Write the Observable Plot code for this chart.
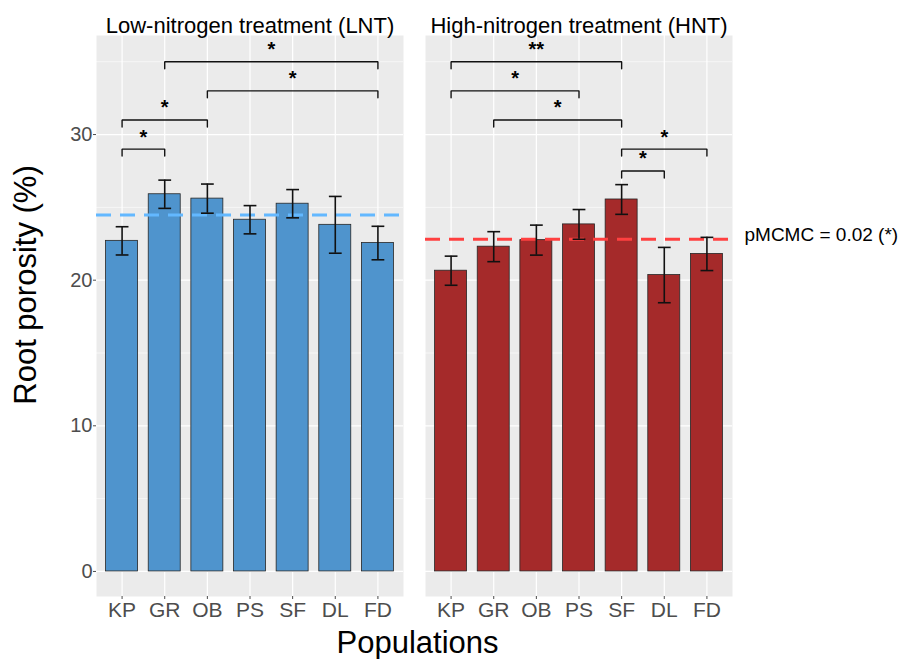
<!DOCTYPE html>
<html>
<head>
<meta charset="utf-8">
<script src="https://cdn.jsdelivr.net/npm/d3@7"></script>
<script src="https://cdn.jsdelivr.net/npm/@observablehq/plot@0.6"></script>
<style>
  html, body { margin: 0; padding: 0; background: #ffffff; }
  #chart { width: 900px; height: 659px; }
</style>
</head>
<body>
<div id="chart"></div>
<script>
// Root porosity by population under two nitrogen treatments
const populations = ["KP", "GR", "OB", "PS", "SF", "DL", "FD"];
const treatments = ["Low-nitrogen treatment (LNT)", "High-nitrogen treatment (HNT)"];

const lntMean = [22.7, 25.9, 25.6, 24.15, 25.25, 23.8, 22.55];
const lntErr  = [0.97, 0.97, 1.0, 0.97, 0.97, 1.95, 1.15];
const hntMean = [20.65, 22.3, 22.75, 23.83, 25.54, 20.35, 21.8];
const hntErr  = [1.0, 1.03, 1.03, 1.02, 1.02, 1.9, 1.14];

// overall mean of each treatment (dashed reference lines)
const treatmentMean = [24.48, 22.81];
const mcmcLabel = "pMCMC = 0.02 (*)";

// pairwise comparisons: [from, to, bracket height, significance]
const lntPairs = [["KP", "GR", 29.0, "*"], ["KP", "OB", 31.0, "*"], ["OB", "FD", 33.0, "*"], ["GR", "FD", 35.0, "*"]];
const hntPairs = [["KP", "SF", 35.0, "**"], ["KP", "PS", 33.0, "*"], ["GR", "SF", 31.0, "*"], ["SF", "FD", 29.0, "*"], ["SF", "DL", 27.5, "*"]];

const yTicks = [0, 10, 20, 30];
const yMinor = [5, 15, 25, 35];

const barColors = ["#4F94CD", "#A52A2A"];
const meanColors = ["#63B8FF", "#FF4040"];

// ---- derived tables ----
const rows = treatments.flatMap((t, k) => populations.map((p, i) => ({
  treatment: t, population: p, i,
  mean: [lntMean, hntMean][k][i],
  err: [lntErr, hntErr][k][i]
})));

const pairs = [lntPairs, hntPairs].flatMap((list, k) => list.map(([a, b, h, label], n) => ({
  treatment: treatments[k], id: `${k}-${n}`,
  a: populations.indexOf(a), b: populations.indexOf(b), h, label
})));

const hook = 0.48; // bracket end length, in y units
const bracketPath = pairs.flatMap(d => [
  {treatment: d.treatment, id: d.id, x: d.a, y: d.h - hook},
  {treatment: d.treatment, id: d.id, x: d.a, y: d.h},
  {treatment: d.treatment, id: d.id, x: d.b, y: d.h},
  {treatment: d.treatment, id: d.id, x: d.b, y: d.h - hook}
]);

const means = treatments.map((t, k) => ({treatment: t, mean: treatmentMean[k], k}));

const barW = 0.375, capW = 0.15;

const chart = Plot.plot({
  width: 900,
  height: 659,
  marginLeft: 96,
  marginRight: 167,
  marginTop: 35,
  marginBottom: 63,
  style: {fontFamily: "'Liberation Sans', Arial, sans-serif", background: "#ffffff", overflow: "visible"},
  fx: {domain: treatments, paddingInner: 0.0668, paddingOuter: 0, axis: null},
  x: {domain: [-0.6, 6.6]},
  y: {domain: [-1.72, 36.8]},
  color: {domain: treatments, range: barColors},
  marks: [
    Plot.frame({fill: "#EBEBEB"}),
    Plot.ruleY(yMinor, {stroke: "#ffffff", strokeWidth: 0.6}),
    Plot.ruleY(yTicks, {stroke: "#ffffff", strokeWidth: 1.2}),
    Plot.ruleX(d3.range(populations.length), {stroke: "#ffffff", strokeWidth: 1.2}),

    Plot.rectY(rows, {
      fx: "treatment",
      x1: d => d.i - barW, x2: d => d.i + barW,
      y1: 0, y2: "mean",
      fill: "treatment", stroke: "#262626", strokeWidth: 0.8
    }),

    Plot.ruleY(means.filter(d => d.k === 0), {fx: "treatment", y: "mean", stroke: meanColors[0], strokeWidth: 3, strokeDasharray: "15,9"}),
    Plot.ruleY(means.filter(d => d.k === 1), {fx: "treatment", y: "mean", stroke: meanColors[1], strokeWidth: 3, strokeDasharray: "15,9"}),

    // error bars
    Plot.ruleX(rows, {fx: "treatment", x: "i", y1: d => d.mean - d.err, y2: d => d.mean + d.err, stroke: "#111", strokeWidth: 1.6}),
    Plot.link(rows, {fx: "treatment", x1: d => d.i - capW, x2: d => d.i + capW, y1: d => d.mean - d.err, y2: d => d.mean - d.err, stroke: "#111", strokeWidth: 1.6}),
    Plot.link(rows, {fx: "treatment", x1: d => d.i - capW, x2: d => d.i + capW, y1: d => d.mean + d.err, y2: d => d.mean + d.err, stroke: "#111", strokeWidth: 1.6}),

    // significance brackets
    Plot.line(bracketPath, {fx: "treatment", x: "x", y: "y", z: "id", stroke: "#111", strokeWidth: 1.4, strokeLinejoin: "miter"}),
    Plot.text(pairs, {fx: "treatment", x: d => (d.a + d.b) / 2, y: "h", text: "label", dy: -12, fontSize: 20, fontWeight: "bold", fill: "#000"}),

    // facet titles
    Plot.text(treatments, {fx: d => d, text: d => d, frameAnchor: "top", textAnchor: "middle", lineAnchor: "middle", dy: -10, fontSize: 22, fill: "#000"}),

    // MCMC annotation beside the HNT panel
    Plot.text(means.filter(d => d.k === 1), {fx: "treatment", y: "mean", text: () => mcmcLabel, frameAnchor: "right", textAnchor: "start", lineAnchor: "middle", dx: 12, dy: -4, fontSize: 19, fill: "#000"}),

    // axes
    Plot.axisY({ticks: yTicks, tickSize: 3, tickPadding: 1, fontSize: 20, color: "#4D4D4D", label: null}),
    Plot.axisX({ticks: d3.range(populations.length), tickFormat: i => populations[i], tickSize: 3, tickPadding: 3, fontSize: 21, color: "#4D4D4D", label: null}),

    // axis titles
    Plot.text([treatments[0]], {fx: d => d, text: () => "Root porosity (%)", frameAnchor: "left", textAnchor: "middle", lineAnchor: "middle", rotate: -90, dx: -70, dy: -31, fontSize: 31, fill: "#000"}),
    Plot.text([treatments[0]], {fx: d => d, text: () => "Populations", frameAnchor: "bottom-right", textAnchor: "middle", lineAnchor: "middle", dx: 14, dy: 47, fontSize: 31, fill: "#000"})
  ]
});

document.getElementById("chart").appendChild(chart);
</script>
</body>
</html>
